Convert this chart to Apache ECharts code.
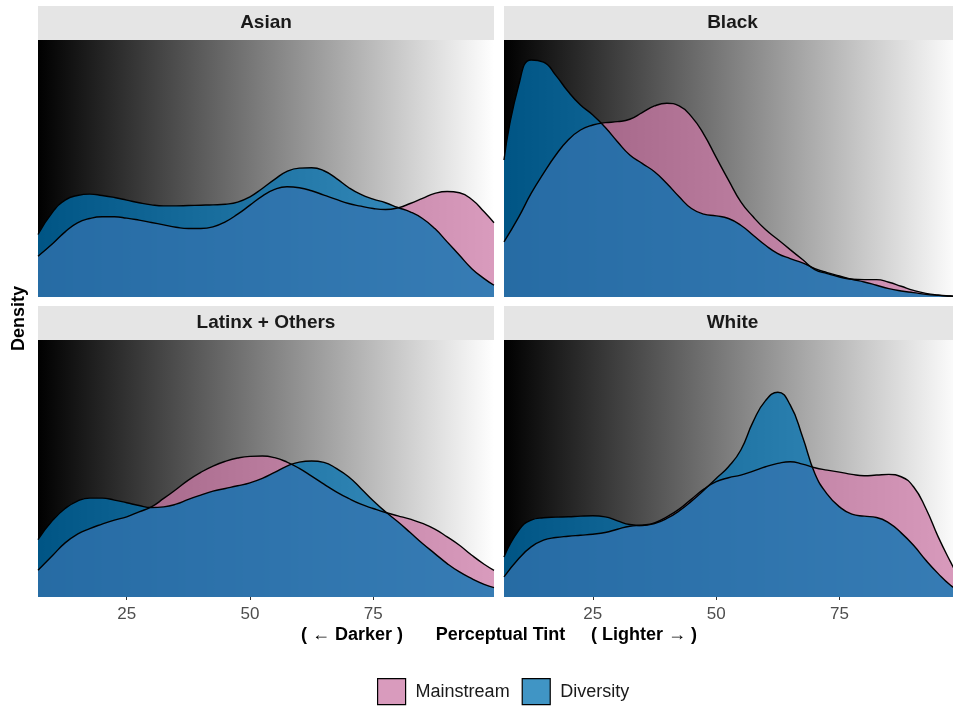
<!DOCTYPE html>
<html>
<head>
<meta charset="utf-8">
<script src="https://cdn.jsdelivr.net/npm/echarts@6/dist/echarts.min.js"></script>
<style>html,body{margin:0;padding:0;background:#fff}#c{width:953px;height:707px}</style>
</head>
<body>
<div id="c"></div>
<script>
// ---- data ----
var panels = ['Asian', 'Black', 'Latinx + Others', 'White'];
var groups = ['Mainstream', 'Diversity'];
var tickValues = [25, 50, 75];
var xs = [7, 10, 12.5, 15, 17.5, 20, 22.5, 25, 27.5, 30, 32.5, 35, 37.5, 40, 42.5, 45, 47.5, 50, 52.5, 55, 57.5, 60, 62.5, 65, 67.5, 70, 72.5, 75, 77.5, 80, 82.5, 85, 87.5, 90, 92.5, 95, 97.5, 99.5];

var asianMain = [0.00490, 0.00643, 0.00783, 0.00892, 0.00944, 0.00964, 0.00964, 0.00948, 0.00924, 0.00896, 0.00867, 0.00839, 0.00823, 0.00823, 0.00843, 0.00904, 0.00996, 0.01104, 0.01213, 0.01293, 0.01325, 0.01313, 0.01277, 0.01225, 0.01173, 0.01124, 0.01092, 0.01064, 0.01052, 0.01072, 0.01124, 0.01185, 0.01245, 0.01269, 0.01253, 0.01173, 0.01024, 0.00892];
var asianDiv = [0.00751, 0.01024, 0.01165, 0.01221, 0.01237, 0.01221, 0.01197, 0.01165, 0.01133, 0.01108, 0.01096, 0.01096, 0.01100, 0.01104, 0.01108, 0.01116, 0.01141, 0.01205, 0.01305, 0.01414, 0.01510, 0.01550, 0.01554, 0.01518, 0.01426, 0.01317, 0.01233, 0.01177, 0.01133, 0.01076, 0.01024, 0.00944, 0.00823, 0.00663, 0.00502, 0.00341, 0.00221, 0.00141];
var blackMain = [0.00663, 0.00964, 0.01245, 0.01486, 0.01707, 0.01888, 0.02008, 0.02068, 0.02096, 0.02108, 0.02137, 0.02217, 0.02297, 0.02329, 0.02297, 0.02169, 0.01956, 0.01679, 0.01406, 0.01145, 0.00964, 0.00811, 0.00691, 0.00570, 0.00450, 0.00329, 0.00281, 0.00241, 0.00213, 0.00209, 0.00209, 0.00177, 0.00129, 0.00080, 0.00044, 0.00024, 0.00012, 0.00004];
var blackDiv = [0.01647, 0.02550, 0.02850, 0.02825, 0.02665, 0.02470, 0.02309, 0.02189, 0.02040, 0.01867, 0.01707, 0.01606, 0.01506, 0.01365, 0.01205, 0.01064, 0.00996, 0.00976, 0.00944, 0.00863, 0.00743, 0.00622, 0.00522, 0.00462, 0.00410, 0.00341, 0.00293, 0.00253, 0.00213, 0.00181, 0.00141, 0.00100, 0.00072, 0.00052, 0.00032, 0.00020, 0.00012, 0.00004];
var latMain = [0.00321, 0.00502, 0.00651, 0.00755, 0.00823, 0.00876, 0.00924, 0.00964, 0.01024, 0.01084, 0.01185, 0.01293, 0.01406, 0.01498, 0.01574, 0.01631, 0.01671, 0.01691, 0.01695, 0.01675, 0.01622, 0.01546, 0.01454, 0.01357, 0.01265, 0.01185, 0.01116, 0.01064, 0.01016, 0.00976, 0.00936, 0.00884, 0.00815, 0.00723, 0.00622, 0.00502, 0.00394, 0.00321];
var latDiv = [0.00691, 0.00924, 0.01064, 0.01153, 0.01189, 0.01189, 0.01165, 0.01133, 0.01100, 0.01076, 0.01084, 0.01116, 0.01173, 0.01225, 0.01273, 0.01305, 0.01337, 0.01373, 0.01426, 0.01498, 0.01574, 0.01622, 0.01635, 0.01618, 0.01546, 0.01446, 0.01305, 0.01157, 0.01024, 0.00904, 0.00775, 0.00643, 0.00522, 0.00402, 0.00301, 0.00221, 0.00153, 0.00112];
var whiteMain = [0.00241, 0.00462, 0.00602, 0.00683, 0.00715, 0.00731, 0.00743, 0.00755, 0.00775, 0.00815, 0.00851, 0.00863, 0.00892, 0.00964, 0.01056, 0.01177, 0.01297, 0.01386, 0.01434, 0.01466, 0.01514, 0.01566, 0.01606, 0.01627, 0.01598, 0.01554, 0.01526, 0.01502, 0.01474, 0.01458, 0.01466, 0.01474, 0.01446, 0.01325, 0.01064, 0.00723, 0.00422, 0.00201];
var whiteDiv = [0.00482, 0.00803, 0.00924, 0.00952, 0.00960, 0.00964, 0.00972, 0.00976, 0.00964, 0.00916, 0.00871, 0.00859, 0.00884, 0.00944, 0.01036, 0.01153, 0.01285, 0.01426, 0.01566, 0.01767, 0.02108, 0.02361, 0.02462, 0.02309, 0.01928, 0.01486, 0.01237, 0.01084, 0.00996, 0.00972, 0.00956, 0.00892, 0.00771, 0.00622, 0.00442, 0.00281, 0.00141, 0.00060];

var mainByPanel = [asianMain, blackMain, latMain, whiteMain];
var divByPanel = [asianDiv, blackDiv, latDiv, whiteDiv];

// ---- layout / style ----
var FONT = '"Liberation Sans", Arial, Helvetica, sans-serif';
var colors = { Mainstream: '#CC79A7', Diversity: '#0072B2' };
var ALPHA = 0.75;
var pLeft = [38, 504], pWidth = [456, 449], pTop = [40, 340], pHeight = 257, stripH = 34;
// right column is cut by the canvas edge: its visible range ends earlier
var xMin = 7, xMaxCol = [99.5, 98.0], yMax = 0.0309;

var chart = echarts.init(document.getElementById('c'), null, { renderer: 'canvas' });

function pair(arr) { return xs.map(function (x, i) { return [x, arr[i]]; }); }

var grids = [], xAxes = [], yAxes = [], series = [], graphics = [];
panels.forEach(function (name, i) {
  var col = i % 2, row = Math.floor(i / 2);
  var isBottom = row === 1;
  grids.push({
    left: pLeft[col], top: pTop[row], width: pWidth[col], height: pHeight,
    show: true, borderWidth: 0,
    backgroundColor: new echarts.graphic.LinearGradient(0, 0, col === 0 ? 1 : 457 / 449, 0, [
      { offset: 0, color: '#000000' }, { offset: 1, color: '#ffffff' }
    ])
  });
  xAxes.push({
    type: 'value', gridIndex: i, min: xMin, max: xMaxCol[col],
    axisLine: { show: false },
    splitLine: { show: false },
    axisTick: { show: isBottom, customValues: tickValues, length: 3, lineStyle: { color: '#333' } },
    axisLabel: { show: isBottom, customValues: tickValues, color: '#4d4d4d', fontSize: 17, fontFamily: FONT, margin: 9 }
  });
  yAxes.push({
    type: 'value', gridIndex: i, min: 0, max: yMax, show: false,
    splitLine: { show: false }
  });
  [['Mainstream', mainByPanel[i]], ['Diversity', divByPanel[i]]].forEach(function (g) {
    series.push({
      name: g[0], type: 'line', xAxisIndex: i, yAxisIndex: i,
      data: pair(g[1]), smooth: 0.5, symbol: 'none', showSymbol: false, clip: true,
      silent: true, animation: false,
      itemStyle: { color: colors[g[0]] },
      lineStyle: { color: '#000', width: 1.4 },
      areaStyle: { color: colors[g[0]], opacity: ALPHA, origin: 'start' }
    });
  });
  // strip
  var stripW = col === 0 ? pWidth[col] : 457;
  graphics.push({
    type: 'rect', silent: true,
    shape: { x: pLeft[col], y: pTop[row] - stripH, width: stripW, height: stripH },
    style: { fill: '#e5e5e5' }
  });
  graphics.push({
    type: 'text', silent: true,
    x: pLeft[col] + stripW / 2, y: pTop[row] - stripH / 2,
    style: { text: name, fill: '#1a1a1a', font: 'bold 19px ' + FONT, align: 'center', verticalAlign: 'middle' }
  });
});

// axis titles
graphics.push({
  type: 'text', silent: true, x: 19, y: 318.5, rotation: Math.PI / 2,
  style: { text: 'Density', fill: '#000', font: 'bold 18px ' + FONT, align: 'center', verticalAlign: 'middle' }
});
var xTitleParts = ['( \u2190 Darker )', 'Perceptual Tint', '( Lighter \u2192 )'];
var xTitlePos = [352, 500.5, 644];
xTitleParts.forEach(function (t, k) {
  graphics.push({
    type: 'text', silent: true, x: xTitlePos[k], y: 635,
    style: { text: t, fill: '#000', font: 'bold 18px ' + FONT, align: 'center', verticalAlign: 'middle' }
  });
});

function rgba(hex, a) {
  var r = parseInt(hex.substr(1, 2), 16), g = parseInt(hex.substr(3, 2), 16), b = parseInt(hex.substr(5, 2), 16);
  return 'rgba(' + r + ',' + g + ',' + b + ',' + a + ')';
}

chart.setOption({
  animation: false,
  backgroundColor: '#ffffff',
  textStyle: { fontFamily: FONT },
  grid: grids, xAxis: xAxes, yAxis: yAxes, series: series,
  legend: {
    left: 377, top: 678, orient: 'horizontal', padding: 0,
    itemWidth: 28, itemHeight: 26, itemGap: 12,
    icon: 'rect', selectedMode: false,
    textStyle: { fontSize: 18, color: '#1a1a1a', fontFamily: FONT, padding: [0, 0, 0, 5] },
    data: groups.map(function (g) {
      return { name: g, icon: 'rect', itemStyle: { color: rgba(colors[g], ALPHA), borderColor: '#000', borderWidth: 1.2 } };
    })
  },
  graphic: graphics
});
</script>
</body>
</html>
